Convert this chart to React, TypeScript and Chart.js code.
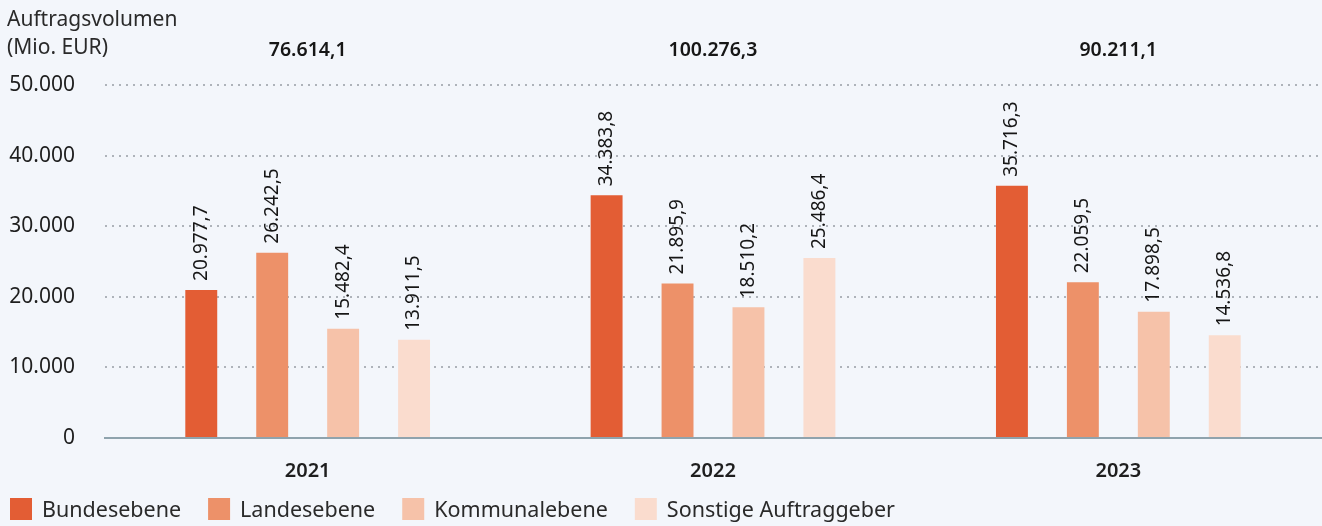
import React, { useEffect, useRef } from "react";
import { Chart, registerables } from "chart.js";

Chart.register(...registerables);

const years = ["2021", "2022", "2023"];
const totals = ["76.614,1", "100.276,3", "90.211,1"];
const seriesNames = ["Bundesebene", "Landesebene", "Kommunalebene", "Sonstige Auftraggeber"];
const bundes = [20977.7, 34383.8, 35716.3];
const landes = [26242.5, 21895.9, 22059.5];
const kommunal = [15482.4, 18510.2, 17898.5];
const sonstige = [13911.5, 25486.4, 14536.8];
const colors = ["#e35d34", "#ed9169", "#f6c2a9", "#fadcce"];
const yTicks = [0, 10000, 20000, 30000, 40000, 50000];
const yTitle = ["Auftragsvolumen", "(Mio. EUR)"];

const FONT = "'Noto Sans', sans-serif";
const BG = "#f3f6fb";

const fmt = (v: number, dec: number) =>
  v.toLocaleString("de-DE", { minimumFractionDigits: dec, maximumFractionDigits: dec });

const overlay = {
  id: "overlay",
  afterDatasetsDraw(chart: any) {
    const ctx = chart.ctx;
    ctx.save();
    // value labels
    ctx.fillStyle = "#161616";
    ctx.font = `19px ${FONT}`;
    chart.data.datasets.forEach((ds: any, di: number) => {
      const meta = chart.getDatasetMeta(di);
      meta.data.forEach((bar: any, i: number) => {
        ctx.save();
        ctx.translate(bar.x, bar.y - 9);
        ctx.rotate(-Math.PI / 2);
        ctx.textAlign = "left";
        ctx.textBaseline = "middle";
        ctx.fillText(fmt(ds.data[i], 1), 0, 0);
        ctx.restore();
      });
    });
    // totals
    const xs = chart.scales.x;
    ctx.font = `600 19.5px ${FONT}`;
    ctx.textAlign = "center";
    ctx.textBaseline = "middle";
    totals.forEach((t, i) => {
      ctx.fillText(t, xs.getPixelForValue(i), 50);
    });
    // axis title
    ctx.font = `21px ${FONT}`;
    ctx.textAlign = "left";
    ctx.fillStyle = "#2a2a2a";
    ctx.fillText(yTitle[0], 7, 20);
    ctx.fillText(yTitle[1], 7, 48);
    // legend
    ctx.font = `21.5px ${FONT}`;
    let x = 10;
    seriesNames.forEach((n, i) => {
      ctx.fillStyle = colors[i];
      ctx.fillRect(x, 498, 22, 22);
      ctx.fillStyle = "#2a2a2a";
      ctx.textBaseline = "middle";
      ctx.fillText(n, x + 32, 511);
      x += 32 + ctx.measureText(n).width + 27;
    });
    ctx.restore();
  },
};

export default function App() {
  const ref = useRef<HTMLCanvasElement>(null);
  useEffect(() => {
    const chart = new Chart(ref.current!, {
      type: "bar",
      data: {
        labels: years,
        datasets: [bundes, landes, kommunal, sonstige].map((d, i) => ({
          label: seriesNames[i],
          data: d,
          backgroundColor: colors[i],
          categoryPercentage: 0.7,
          barPercentage: 0.45,
        })),
      },
      options: {
        animation: false,
        responsive: false,
        maintainAspectRatio: false,
        layout: { padding: { top: 85, left: 0, right: 1, bottom: 0 } },
        plugins: { legend: { display: false }, tooltip: { enabled: false } },
        scales: {
          x: {
            grid: { display: false },
            border: { display: true, color: "#8fa3ad", width: 2 },
            ticks: { font: { family: FONT, size: 20, weight: "600" }, color: "#1e1e1e", padding: 13 },
            afterFit: (s: any) => {
              s.height = 88;
            },
          },
          y: {
            min: 0,
            max: 50000,
            afterBuildTicks: (s: any) => {
              s.ticks = yTicks.map((v) => ({ value: v }));
            },
            border: { display: false, dash: [2, 5] },
            grid: {
              drawTicks: false,
              color: (c: any) => (c.tick && c.tick.value === 0 ? "rgba(0,0,0,0)" : "#aeb3ba"),
              lineWidth: 2,
            } as any,
            ticks: {
              font: { family: FONT, size: 21 },
              color: "#1e1e1e",
              padding: 30,
              callback: (v: any) => fmt(Number(v), 0),
            },
            afterFit: (s: any) => {
              s.width = 105;
            },
          },
        },
      },
      plugins: [
        {
          id: "bg",
          beforeDraw(c: any) {
            const ctx = c.ctx;
            ctx.save();
            ctx.fillStyle = BG;
            ctx.fillRect(0, 0, c.width, c.height);
            ctx.restore();
          },
        },
        overlay,
      ],
    } as any);
    return () => chart.destroy();
  }, []);
  return (
    <div style={{ position: "absolute", left: 0, top: 0, width: 1322, height: 526, background: BG }}>
      <canvas ref={ref} width={1322} height={526} style={{ display: "block" }} />
    </div>
  );
}
